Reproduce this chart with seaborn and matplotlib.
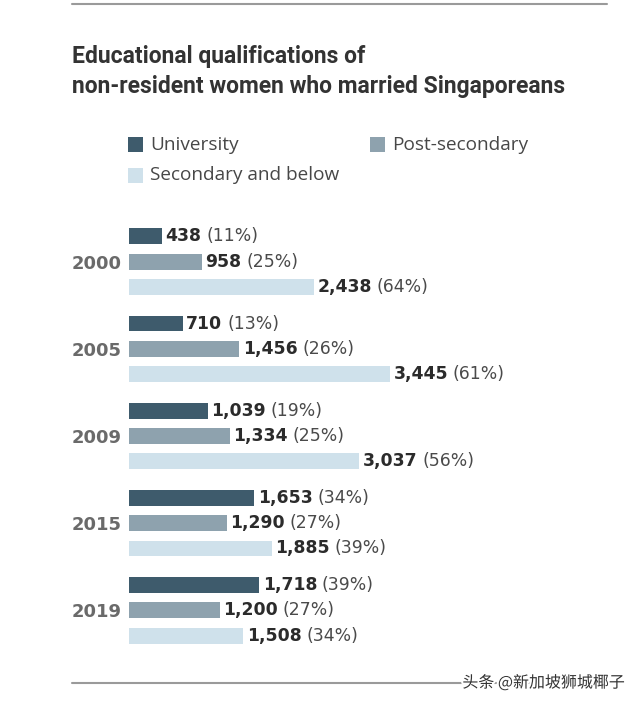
import matplotlib
matplotlib.use("Agg")
import matplotlib.pyplot as plt
import matplotlib.patheffects as pe
import seaborn as sns
import pandas as pd
from matplotlib.patches import Rectangle
from matplotlib.lines import Line2D

years = ["2000", "2005", "2009", "2015", "2019"]
levels = ["University", "Post-secondary", "Secondary and below"]
university = [438, 710, 1039, 1653, 1718]
post_secondary = [958, 1456, 1334, 1290, 1200]
secondary_below = [2438, 3445, 3037, 1885, 1508]
university_pct = [11, 13, 19, 34, 39]
post_secondary_pct = [25, 26, 25, 27, 27]
secondary_below_pct = [64, 61, 56, 39, 34]
colors = ["#3e5b6c", "#8ea2ae", "#cfe1eb"]

title_lines = ["Educational qualifications of",
               "non-resident women who married Singaporeans"]
watermark = "头条 @新加坡狮城椰子"

rows = []
for lvl, vals, pcts in zip(levels, [university, post_secondary, secondary_below],
                           [university_pct, post_secondary_pct, secondary_below_pct]):
    for y, v, p in zip(years, vals, pcts):
        rows.append({"year": y, "level": lvl, "value": v, "pct": p})
df = pd.DataFrame(rows)

sns.set_style("white")
plt.rcParams['font.family'] = ['DejaVu Sans']

W, H = 640, 702
fig = plt.figure(figsize=(W / 100, H / 100), dpi=100)
fig.patch.set_facecolor("white")

XMAX = 6000
ax_w = 261 / 3445 * XMAX
ax = fig.add_axes([129 / W, 1 - 654 / H, ax_w / W, 436 / H])
sns.barplot(data=df, y="year", x="value", hue="level", hue_order=levels, order=years,
            palette=colors, orient="h", width=0.87, gap=0.37, saturation=1,
            legend=False, linewidth=0, ax=ax, errorbar=None)
ax.set_xlim(0, XMAX)
ax.set_ylim(4.5, -0.5)
ax.set_xticks([])
ax.set_xlabel("")
ax.set_ylabel("")
for s in ax.spines.values():
    s.set_visible(False)
ax.tick_params(axis="y", length=0, pad=5)
for lab in ax.get_yticklabels():
    lab.set_fontweight("bold")
    lab.set_color("#6a6a6a")
    lab.set_fontsize(13)
ax.set_facecolor("none")

label_size = 12.4
for j, lvl in enumerate(levels):
    cont = ax.containers[j]
    sub = df[df.level == lvl].set_index("year").loc[years]
    for patch, v, p in zip(cont.patches, sub["value"], sub["pct"]):
        yc = patch.get_y() + patch.get_height() / 2
        t = ax.annotate(f"{v:,}", xy=(patch.get_width(), yc), xytext=(2.5, 0),
                        textcoords="offset points", ha="left", va="center",
                        fontsize=label_size, fontweight="bold", color="#2b2b2b")
        ax.annotate(f"({p}%)", xy=(1, 0), xycoords=t, xytext=(3.5, 0),
                    textcoords="offset points", ha="left", va="bottom",
                    fontsize=label_size, color="#4a4a4a")

# title
for txt, base in zip(title_lines, [63, 93]):
    fig.text(72 / W, 1 - base / H, txt, fontsize=16.5, fontweight="bold", color="#333333",
             family=["Roboto", "DejaVu Sans"], va="baseline", ha="left")

# legend
leg_items = [(128, 144.5, 0), (370, 144.5, 1), (128, 175.5, 2)]
for x, y, j in leg_items:
    fig.patches.append(Rectangle((x / W, 1 - (y + 7.5) / H), 15 / W, 15 / H,
                                 transform=fig.transFigure, facecolor=colors[j],
                                 edgecolor="none"))
    fig.text((x + 22) / W, 1 - y / H, levels[j], fontsize=13.7, color="#474747",
             family=["Open Sans", "DejaVu Sans"], va="center", ha="left")

# rules
fig.add_artist(Line2D([72 / W, 607 / W], [1 - 4 / H, 1 - 4 / H], color="#9a9a9a", lw=1.5))
fig.add_artist(Line2D([72 / W, 607 / W], [1 - 683 / H, 1 - 683 / H], color="#9a9a9a", lw=1.5))

fig.text(625 / W, 1 - 683 / H, watermark, fontsize=11.5, color="#333333",
         family=["Noto Sans CJK SC", "DejaVu Sans"], ha="right", va="center",
         path_effects=[pe.withStroke(linewidth=3, foreground="white")])

fig.savefig("out.png", dpi=100, facecolor="white")
